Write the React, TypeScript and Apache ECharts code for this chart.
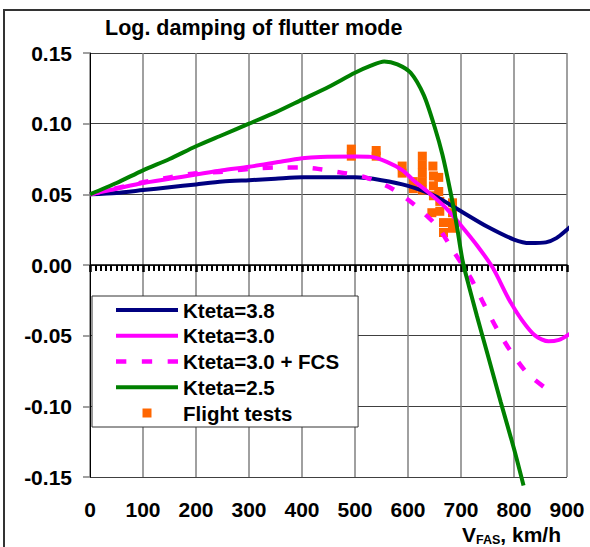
import React, { useEffect, useRef } from "react";
import * as echarts from "echarts";

// Kteta = 3.8
const speedK38 = [0, 50, 100, 150, 200, 250, 300, 350, 400, 450, 500, 550, 600, 650, 700, 750, 800, 830, 860, 880, 900, 915];
const dampK38 = [0.05, 0.051, 0.053, 0.055, 0.057, 0.059, 0.06, 0.061, 0.062, 0.062, 0.062, 0.06, 0.056, 0.049, 0.038, 0.027, 0.018, 0.0155, 0.016, 0.019, 0.025, 0.03];

// Kteta = 3.0
const speedK30 = [0, 50, 100, 150, 200, 250, 300, 350, 400, 435, 500, 530, 560, 590, 610, 640, 670, 700, 730, 760, 790, 815, 840, 865, 885, 900, 915];
const dampK30 = [0.05, 0.054, 0.058, 0.061, 0.064, 0.067, 0.0695, 0.0725, 0.0755, 0.0765, 0.0768, 0.0765, 0.073, 0.067, 0.06, 0.051, 0.041, 0.028, 0.014, -0.002, -0.024, -0.039, -0.05, -0.054, -0.053, -0.05, -0.046];

// Kteta = 3.0 + FCS
const speedK30F = [0, 100, 150, 200, 250, 300, 350, 400, 430, 480, 520, 570, 614, 656, 687, 718, 741, 766, 792, 826, 870];
const dampK30F = [0.05, 0.0585, 0.062, 0.065, 0.066, 0.068, 0.069, 0.069, 0.068, 0.065, 0.062, 0.054, 0.042, 0.027, 0.009, -0.009, -0.026, -0.044, -0.06, -0.077, -0.09];

// Kteta = 2.5
const speedK25 = [0, 50, 100, 150, 200, 250, 300, 350, 400, 450, 500, 530, 555, 580, 605, 630, 650, 665, 680, 692, 703, 715, 730, 750, 775, 800, 818];
const dampK25 = [0.05, 0.058, 0.067, 0.075, 0.084, 0.092, 0.1, 0.108, 0.117, 0.126, 0.136, 0.141, 0.144, 0.142, 0.136, 0.12, 0.098, 0.078, 0.052, 0.028, 0.003, -0.015, -0.036, -0.063, -0.097, -0.13, -0.156];

// Flight tests
const flightSpeed = [493, 493, 540, 540, 589, 589, 610, 610, 627, 627, 627, 627, 627, 647, 648, 658, 648, 648, 658, 645, 660, 660, 667, 667, 684, 684, 684, 684];
const flightDamp = [0.082, 0.077, 0.081, 0.077, 0.07, 0.065, 0.059, 0.054, 0.077, 0.071, 0.065, 0.059, 0.053, 0.07, 0.063, 0.062, 0.056, 0.049, 0.052, 0.037, 0.045, 0.038, 0.03, 0.023, 0.044, 0.037, 0.03, 0.026];

const legendNames = ["Kteta=3.8", "Kteta=3.0", "Kteta=3.0 + FCS", "Kteta=2.5", "Flight tests"];

const FONT = "'Liberation Sans', Arial, sans-serif";

const zip = (xs: number[], ys: number[]) => xs.map((x, i) => [x, ys[i]]);

const ICON_SOLID = "path://M0 0h62v4h-62z";
const ICON_DASH = "path://M0 0h10v4.5h-10z M25 0h10v4.5h-10z M50 0h10v4.5h-10z";
const ICON_SQUARE = "path://M0 0h8v8h-8z";

export default function App() {
  const ref = useRef<HTMLDivElement>(null);
  useEffect(() => {
    if (!ref.current) return;
    const chart = echarts.init(ref.current, null, { renderer: "svg" });
    const lineBase = (name: string, data: number[][], color: string, extra: any = {}) => ({
      name,
      type: "line",
      data,
      xAxisIndex: 0,
      yAxisIndex: 0,
      showSymbol: false,
      symbol: "none",
      smooth: 0.25,
      clip: false,
      lineStyle: { color, width: 4, ...extra },
      itemStyle: { color },
    });
    const icons = [ICON_SOLID, ICON_SOLID, ICON_DASH, ICON_SOLID, ICON_SQUARE];
    chart.setOption({
      animation: false,
      backgroundColor: "#fff",
      title: {
        text: "Log. damping of flutter mode",
        left: 105,
        top: 17,
        padding: 0,
        textStyle: { fontFamily: FONT, fontWeight: "bold", fontSize: 21.5, color: "#000" },
      },
      grid: { left: 90, right: 23, top: 53, bottom: 70, containLabel: false, outerBoundsMode: "none" },
      legend: {
        orient: "vertical",
        left: 92,
        top: 296,
        padding: [3, 19, 3, 24],
        backgroundColor: "#fff",
        borderColor: "#333",
        borderWidth: 1,
        borderRadius: 0,
        itemWidth: 62,
        itemHeight: 9,
        itemGap: 3.75,
        symbolKeepAspect: true,
        textStyle: { fontFamily: FONT, fontWeight: "bold", fontSize: 20.5, color: "#000", lineHeight: 22 },
        data: legendNames.map((n, i) => ({ name: n, icon: icons[i] })),
      },
      xAxis: [
        {
          type: "value",
          min: 0,
          max: 900,
          interval: 100,
          position: "bottom",
          axisLine: { show: false, onZero: false },
          axisTick: { show: false },
          axisLabel: { fontFamily: FONT, fontWeight: "bold", fontSize: 21, color: "#000", margin: 22 },
          splitLine: { show: true, lineStyle: { color: "#808080", width: 1.5 } },
          name: "{v|V}{s|FAS}{v|, km/h}",
          nameLocation: "end",
          nameGap: -6,
          nameTextStyle: {
            align: "right",
            verticalAlign: "top",
            padding: [46, 0, 0, 0],
            rich: {
              v: { fontFamily: FONT, fontWeight: "bold", fontSize: 21, color: "#000" },
              s: { fontFamily: FONT, fontWeight: "bold", fontSize: 12.5, color: "#000", padding: [10, 0, 0, 0] },
            },
          },
        },
        {
          type: "value",
          min: 0,
          max: 900,
          interval: 100,
          position: "bottom",
          axisLine: { show: true, onZero: true, onZeroAxisIndex: 0, lineStyle: { color: "#000", width: 1.5 } },
          axisTick: { show: true, length: 7, lineStyle: { color: "#000", width: 2.5 } },
          minorTick: { show: true, splitNumber: 10, length: 6, lineStyle: { color: "#000", width: 2 } },
          axisLabel: { show: false },
          splitLine: { show: false },
        },
      ],
      yAxis: {
        type: "value",
        min: -0.15,
        max: 0.15,
        interval: 0.05,
        axisLine: { show: true, lineStyle: { color: "#000", width: 1 } },
        axisTick: { show: true, length: 7, lineStyle: { color: "#808080", width: 1.5 } },
        axisLabel: {
          fontFamily: FONT,
          fontWeight: "bold",
          fontSize: 21,
          color: "#000",
          margin: 18,
          formatter: (v: number) => v.toFixed(2),
        },
        splitLine: { show: true, lineStyle: { color: "#404040", width: 1 } },
      },
      graphic: [
        {
          type: "rect",
          silent: true,
          shape: { x: 4, y: 10, width: 700, height: 700 },
          style: { fill: "none", stroke: "#333", lineWidth: 2 },
          z: -1,
        },
      ],
      series: [
        lineBase(legendNames[0], zip(speedK38, dampK38), "#000080"),
        lineBase(legendNames[1], zip(speedK30, dampK30), "#ff00ff"),
        lineBase(legendNames[2], zip(speedK30F, dampK30F), "#ff00ff", { type: [10, 15], width: 4.5 }),
        {
          name: legendNames[4],
          type: "scatter",
          data: zip(flightSpeed, flightDamp),
          xAxisIndex: 0,
          yAxisIndex: 0,
          symbol: "rect",
          symbolSize: 9,
          itemStyle: { color: "#ff6600", opacity: 1 },
        },
        lineBase(legendNames[3], zip(speedK25, dampK25), "#008000"),
      ],
    });
    return () => chart.dispose();
  }, []);
  return (
    <div
      ref={ref}
      style={{ position: "fixed", left: 0, top: 0, width: 590, height: 547, background: "#fff" }}
    />
  );
}
